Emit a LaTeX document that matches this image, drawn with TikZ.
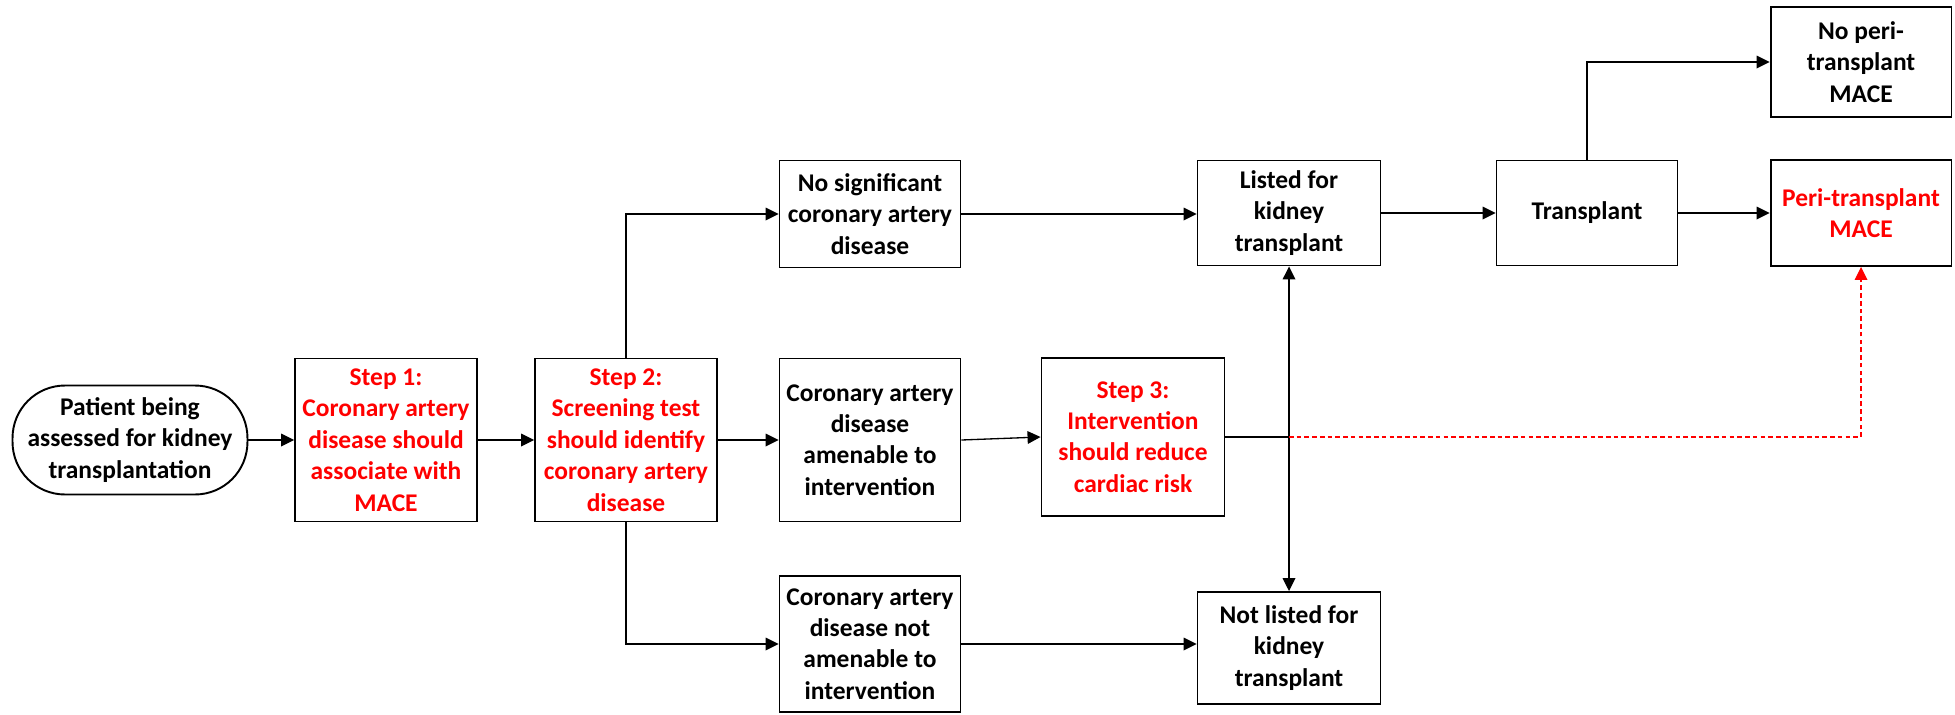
\documentclass[tikz,border=0pt]{standalone}
\usepackage{fontspec}
\setmainfont{Carlito}
\usetikzlibrary{arrows.meta}
\definecolor{stepred}{RGB}{255,0,0}
\tikzset{tip/.tip={Triangle[length=7.4pt,width=7.2pt]}}
\begin{document}
\begin{tikzpicture}[x=0.02cm,y=-0.02cm,
  box/.style={draw, line width=1.1pt, inner sep=0pt, align=center,
    font=\fontsize{14.5}{17.9}\selectfont\bfseries, minimum width=3.62cm},
  redtext/.style={text=stepred},
  link/.style={line width=0.75pt, -tip},
  plain/.style={line width=0.75pt},
  redlink/.style={line width=0.7pt, stepred, dash pattern=on 2.6pt off 1.8pt, -tip}]
\useasboundingbox (0,0) rectangle (1955,714);

% start node
\node[box, minimum width=4.7cm, minimum height=2.18cm, rounded corners=1.05cm]
  (pat) at (130,440) {Patient being\\assessed for kidney\\transplantation};

% main chain
\node[box, redtext, minimum width=3.64cm, minimum height=3.26cm] (s1) at (386,440)
  {Step 1:\\Coronary artery\\disease should\\associate with\\MACE};
\node[box, redtext, minimum width=3.64cm, minimum height=3.26cm] (s2) at (626,440)
  {Step 2:\\Screening test\\should identify\\coronary artery\\disease};

% screening outcomes
\node[box, minimum height=2.14cm] (nosig) at (870,214)
  {No significant\\coronary artery\\disease};
\node[box, minimum height=3.26cm] (amen) at (870,440)
  {Coronary artery\\disease\\amenable to\\intervention};
\node[box, minimum height=2.72cm] (notamen) at (870,644)
  {Coronary artery\\disease not\\amenable to\\intervention};

\node[box, redtext, minimum width=3.66cm, minimum height=3.16cm] (s3) at (1133,437)
  {Step 3:\\Intervention\\should reduce\\cardiac risk};

% listing
\node[box, minimum width=3.66cm, minimum height=2.1cm] (listed) at (1289,213)
  {Listed for\\kidney\\transplant};
\node[box, minimum width=3.66cm, minimum height=2.24cm] (notlisted) at (1289,648)
  {Not listed for\\kidney\\transplant};

% transplant and outcomes
\node[box, minimum height=2.1cm] (trans) at (1587,213) {Transplant};
\node[box, redtext, minimum height=2.12cm] (peri) at (1861,213)
  {Peri-transplant\\MACE};
\node[box, minimum height=2.2cm] (noperi) at (1861,62)
  {No peri-\\transplant\\MACE};

% connectors
\draw[link] (pat.east) -- (s1.west);
\draw[link] (s1.east) -- (s2.west);
\draw[link] (s2.east) -- (amen.west);
\draw[link] (s2.north) |- (nosig.west);
\draw[link] (s2.south) |- (notamen.west);
\draw[link] (nosig.east) -- (nosig.east -| listed.west);
\draw[link] (amen.east) -- (s3.west);
\draw[link] (notamen.east) -- (notamen.east -| notlisted.west);

\coordinate (j) at (listed.south |- s3.east);
\draw[plain] (s3.east) -- (j);
\draw[line width=0.75pt, tip-tip] (listed.south) -- (notlisted.north);
\draw[redlink] (j) -| (peri.south);

\draw[link] (listed.east) -- (trans.west);
\draw[link] (trans.east) -- (peri.west);
\draw[link] (trans.north) |- (noperi.west);
\end{tikzpicture}
\end{document}
